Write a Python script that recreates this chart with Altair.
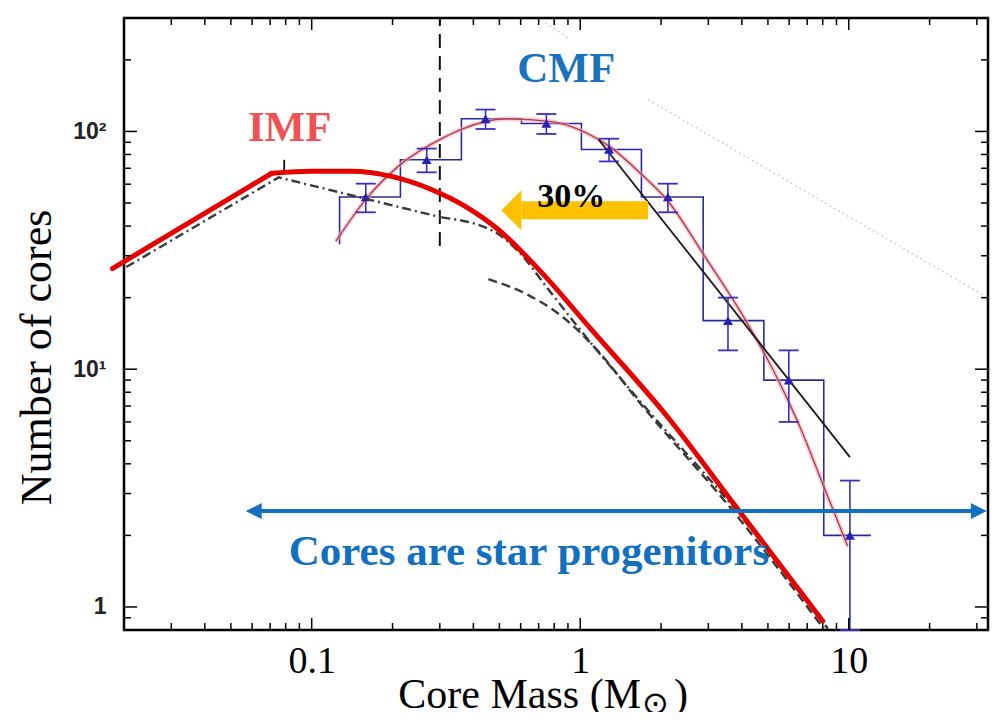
import altair as alt
import pandas as pd

# ---------------- data ----------------
# CMF histogram (bin edges in solar masses, counts)
hist_edges = [0.127, 0.214, 0.361, 0.604, 1.01, 1.69, 2.87, 4.83, 8.07, 12.1]
hist_counts = [53, 76, 113, 108, 84, 53, 16, 9, 2]
hist_floor = 33.5  # lowest visible point of the first bin edge

# CMF data points with Poisson error bars
pt_mass = [0.159, 0.268, 0.444, 0.748, 1.28, 2.12, 3.55, 5.98, 10.1]
pt_count = [53, 76, 113, 108, 84, 53, 16, 9, 2]
pt_err = [7.3, 8.7, 10.6, 10.4, 9.2, 7.3, 4.0, 3.0, 1.4]

# log-normal fit to the CMF
cmf_fit_mass = [0.123, 0.159, 0.210, 0.315, 0.361, 0.526, 0.78, 1.045, 1.30, 1.69, 2.12, 2.91, 4.11, 5.44, 6.63, 7.87, 9.91]
cmf_fit_count = [34.5, 51.8, 71.3, 95.0, 102, 113, 110, 99, 85.7, 66.0, 51.0, 29.8, 16.2, 9.08, 5.6, 3.45, 1.80]

# power-law fit to the high-mass CMF
pl_mass = [1.17, 10.1]
pl_count = [92.5, 4.27]

# IMF (thick red curve): straight rise, then curved fall
imf_rise_mass = [0.0181, 0.0710]
imf_rise_count = [26.5, 66.7]
imf_mass = [0.0710, 0.100, 0.141, 0.198, 0.279, 0.373, 0.495, 0.716, 1.099, 2.12, 3.86, 8.0]
imf_count = [66.7, 68, 68, 64.7, 57.0, 48.4, 38.7, 25.6, 14.7, 6.28, 2.58, 0.873]

# IMF segments (black dash-dot) and dashed variant
dd_mass = [0.0204, 0.0754, 0.304, 0.476, 0.588, 0.760, 0.983, 1.645, 3.77, 8.36]
dd_count = [26.9, 64.1, 43.5, 38.0, 31.3, 21.7, 15.0, 7.48, 2.58, 0.81]
da_mass = [0.455, 0.641, 0.865, 1.167, 1.645, 3.71, 8.07]
da_count = [23.9, 20.5, 16.5, 11.9, 7.35, 2.53, 0.81]

# faint background lines of the original figure
faint1_mass = [1.79, 31.5]
faint1_count = [136, 20.6]
faint2_mass = [0.741, 0.918]
faint2_count = [287, 244]

# vertical dashed line at 0.3 Msun and small peak marker
vline_mass = [0.3]
vline_lo = [33.0]
vline_hi = [300.0]
peak_mass = [0.079]
peak_lo = [66.0]
peak_hi = [76.0]

# annotations (anchor positions in data units)
imf_label = ("IMF", 0.0828, 90.8)
cmf_label = ("CMF", 0.887, 162.0)
pct_label = ("30%", 0.926, 48.0)
cores_label = ("Cores are star progenitors", 0.0821, 1.50)
yellow_arrow_x = [0.604, 1.79]
yellow_arrow_head = 0.554
yellow_arrow_y = 46.6
blue_arrow_x = [0.0608, 30.5]
blue_arrow_y = 2.53

# axis ticks and titles
x_major = [0.1, 1, 10]
x_minor = [0.03, 0.04, 0.05, 0.06, 0.07, 0.08, 0.09,
           0.2, 0.3, 0.4, 0.5, 0.6, 0.7, 0.8, 0.9,
           2, 3, 4, 5, 6, 7, 8, 9, 20, 30]
y_major = [1, 10, 100]
y_minor = [0.9, 2, 3, 4, 5, 6, 7, 8, 9, 20, 30, 40, 50, 60, 70, 80, 90, 200]
x_title_parts = ["Core Mass (M", "⊙", ")"]
y_title = "Number of cores"

# ---------------- chart ----------------
W, H = 864, 612
XS = alt.Scale(type="log", domain=[0.02, 33])
YS = alt.Scale(type="log", domain=[0.8, 300], clamp=True)
SERIF = "Liberation Serif"

XAX = alt.Axis(values=x_major, format="~g", ticks=False, tickSize=0, domain=False, grid=False,
               labelFont=SERIF, labelFontSize=38, labelColor="black", labelPadding=42,
               labelBaseline="alphabetic", labelFlush=False, labelOverlap=False,
               title=None)
YAX = alt.Axis(values=y_major, labelExpr="datum.value == 100 ? '10²' : datum.value == 10 ? '10¹' : '1'",
               ticks=False, tickSize=0, domain=False, grid=False,
               labelFont="Liberation Sans", labelFontWeight="bold", labelFontSize=23, labelColor="#222222",
               labelPadding=18, labelBaseline="middle", labelOverlap=False,
               title=y_title, titleFont=SERIF, titleFontSize=44, titleFontWeight="normal",
               titleColor="black", titleAngle=270, titleX=-74, titleY=339,
               titleBaseline="alphabetic", titleAlign="center")


def X():
    return alt.X("x:Q", scale=XS, axis=XAX)


def Y():
    return alt.Y("y:Q", scale=YS, axis=YAX)


def line_df(xs, ys):
    return pd.DataFrame({"x": xs, "y": ys, "o": list(range(len(xs)))})


def line(xs, ys, **kw):
    return alt.Chart(line_df(xs, ys)).mark_line(**kw).encode(x=X(), y=Y(), order=alt.Order("o:Q"))


layers = []

# faint background lines
layers.append(line(faint1_mass, faint1_count, color="#bdbdbd", strokeWidth=1.5, strokeDash=[2, 3], opacity=0.7))
layers.append(line(faint2_mass, faint2_count, color="#bdbdbd", strokeWidth=1.5, strokeDash=[2, 3], opacity=0.7))

# vertical dashed line
vdf = pd.DataFrame({"x": vline_mass, "y": vline_lo, "y2": vline_hi})
layers.append(alt.Chart(vdf).mark_rule(color="#111111", strokeWidth=2, strokeDash=[14, 8]).encode(
    x=X(), y=Y(), y2=alt.Y2("y2:Q")))
pdf = pd.DataFrame({"x": peak_mass, "y": peak_lo, "y2": peak_hi})
layers.append(alt.Chart(pdf).mark_rule(color="#111111", strokeWidth=1.8).encode(
    x=X(), y=Y(), y2=alt.Y2("y2:Q")))

# histogram steps
hx, hy = [hist_edges[0]], [hist_floor]
for i, c in enumerate(hist_counts):
    hx += [hist_edges[i], hist_edges[i + 1]]
    hy += [c, c]
layers.append(line(hx, hy, color="#2b2b9e", strokeWidth=1.6))

# CMF fit curve with halo
layers.append(line(cmf_fit_mass, cmf_fit_count, color="#f3a6c6", strokeWidth=4.5, opacity=0.6, interpolate="monotone"))
layers.append(line(cmf_fit_mass, cmf_fit_count, color="#b0413e", strokeWidth=1.4, interpolate="monotone"))

# power-law line
layers.append(line(pl_mass, pl_count, color="#1a1a1a", strokeWidth=1.8))

# error bars and points
edf = pd.DataFrame({"x": pt_mass, "y": [c - e for c, e in zip(pt_count, pt_err)],
                    "y2": [c + e for c, e in zip(pt_count, pt_err)]})
layers.append(alt.Chart(edf).mark_rule(color="#3a2fc0", strokeWidth=1.6).encode(x=X(), y=Y(), y2=alt.Y2("y2:Q")))
cap_lo = pd.DataFrame({"x": pt_mass, "y": edf["y"]})
cap_hi = pd.DataFrame({"x": pt_mass, "y": edf["y2"]})
for cdf in (cap_lo, cap_hi):
    layers.append(alt.Chart(cdf).mark_tick(orient="horizontal", size=20, thickness=1.8,
                                           color="#3a2fc0", opacity=1).encode(x=X(), y=Y()))
pdf2 = pd.DataFrame({"x": pt_mass, "y": pt_count})
layers.append(alt.Chart(pdf2).mark_point(shape="triangle-up", filled=True, size=100,
                                         color="#2a1fb5", opacity=1).encode(x=X(), y=Y()))

# IMF curves
layers.append(line(dd_mass[:3], dd_count[:3], color="#3a3a3a", strokeWidth=2.4, strokeDash=[9, 4, 2, 4]))
layers.append(line(dd_mass[2:], dd_count[2:], color="#3a3a3a", strokeWidth=2.4, strokeDash=[9, 4, 2, 4],
                   interpolate="monotone"))
layers.append(line(da_mass, da_count, color="#3a3a3a", strokeWidth=2.4, strokeDash=[9, 5], interpolate="monotone"))
layers.append(line(imf_rise_mass, imf_rise_count, color="#e60000", strokeWidth=5, strokeCap="round"))
layers.append(line(imf_mass, imf_count, color="#e60000", strokeWidth=5, interpolate="monotone", strokeCap="round"))

# yellow arrow (30 %)
layers.append(line(yellow_arrow_x, [yellow_arrow_y] * 2, color="#ffc000", strokeWidth=18, strokeCap="butt"))
ya = pd.DataFrame({"x": [yellow_arrow_head], "y": [yellow_arrow_y]})
layers.append(alt.Chart(ya).mark_point(shape="M -0.5 0 L 0.5 -1 L 0.5 1 Z", size=1600, filled=True,
                                       color="#ffc000", opacity=1).encode(x=X(), y=Y()))

# blue double arrow
BLUE = "#1170c0"
layers.append(line(blue_arrow_x, [blue_arrow_y] * 2, color=BLUE, strokeWidth=4, strokeCap="butt"))
bl = pd.DataFrame({"x": [blue_arrow_x[0]], "y": [blue_arrow_y]})
br = pd.DataFrame({"x": [blue_arrow_x[1]], "y": [blue_arrow_y]})
layers.append(alt.Chart(bl).mark_point(shape="M -1 0 L 1 -1 L 1 1 Z", size=256, filled=True,
                                       color=BLUE, opacity=1).encode(x=X(), y=Y()))
layers.append(alt.Chart(br).mark_point(shape="M 1 0 L -1 -1 L -1 1 Z", size=256, filled=True,
                                       color=BLUE, opacity=1).encode(x=X(), y=Y()))


def label(spec, color, size, align="center"):
    txt, lx, ly = spec
    d = pd.DataFrame({"x": [lx], "y": [ly]})
    return alt.Chart(d).mark_text(text=txt, font=SERIF, fontWeight="bold", fontSize=size, color=color,
                                  align=align, baseline="alphabetic").encode(x=X(), y=Y())


layers.append(label(imf_label, "#ee5252", 43))
layers.append(label(cmf_label, "#1a72be", 43))
layers.append(label(pct_label, "#000000", 34))
layers.append(label(cores_label, BLUE, 43, align="left"))

# x-axis title with subscript sun symbol (positions relative to the plot area)
layers.append(alt.Chart(pd.DataFrame({"t": [x_title_parts[0]]})).mark_text(
    font=SERIF, fontSize=42, color="black", align="right", baseline="alphabetic").encode(
    text="t:N", x=alt.value(517), y=alt.value(690)))
layers.append(alt.Chart(pd.DataFrame({"t": [x_title_parts[1]]})).mark_text(
    font="DejaVu Sans", fontSize=32, color="black", align="left", baseline="alphabetic").encode(
    text="t:N", x=alt.value(518), y=alt.value(696)))
layers.append(alt.Chart(pd.DataFrame({"t": [x_title_parts[2]]})).mark_text(
    font=SERIF, fontSize=42, color="black", align="left", baseline="alphabetic").encode(
    text="t:N", x=alt.value(550), y=alt.value(690)))


# inward ticks on all four sides
def xticks(vals, L):
    d = pd.DataFrame({"x": vals})
    return [alt.Chart(d).mark_rule(color="black", strokeWidth=1.5).encode(x=X(), y=alt.value(H), y2=alt.value(H - L)),
            alt.Chart(d).mark_rule(color="black", strokeWidth=1.5).encode(x=X(), y=alt.value(0), y2=alt.value(L))]


def yticks(vals, L):
    d = pd.DataFrame({"y": vals})
    return [alt.Chart(d).mark_rule(color="black", strokeWidth=1.5).encode(y=Y(), x=alt.value(0), x2=alt.value(L)),
            alt.Chart(d).mark_rule(color="black", strokeWidth=1.5).encode(y=Y(), x=alt.value(W - L), x2=alt.value(W))]


layers += xticks(x_major, 12) + xticks(x_minor, 7) + yticks(y_major, 13) + yticks(y_minor, 7)

chart = alt.layer(*layers).properties(
    width=W, height=H,
    padding={"left": 116, "top": 10, "right": 6, "bottom": 82},
    autosize=alt.AutoSizeParams(type="none"),
    background="white",
).configure_view(stroke="black", strokeWidth=2.5)

chart.save("out.html", embed_options={"renderer": "svg", "actions": False})
